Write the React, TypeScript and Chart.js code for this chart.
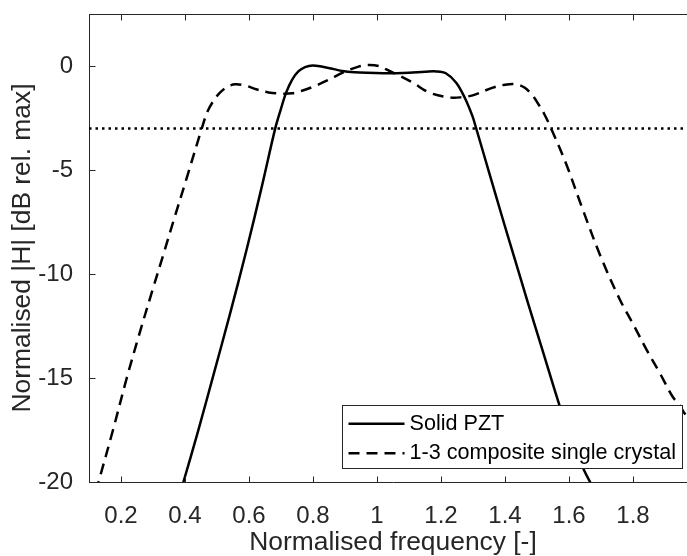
import React, { useEffect, useRef } from 'react';
import { Chart, registerables } from 'chart.js';

Chart.register(...registerables);

// ---- data ----
const solidX = [0.37, 0.395, 0.44, 0.489, 0.54, 0.593, 0.64, 0.682, 0.70, 0.716, 0.735, 0.755, 0.775, 0.799, 0.83, 0.865, 0.892, 0.93, 0.97, 1.02, 1.06, 1.10, 1.15, 1.185, 1.215, 1.2475, 1.275, 1.298, 1.31, 1.35, 1.39, 1.429, 1.47, 1.52, 1.57, 1.61, 1.643, 1.666, 1.69];
const solidY = [-21.3, -20, -17.6, -14.85, -11.95, -8.8, -5.8, -3, -2.05, -1.28, -0.65, -0.25, -0.05, 0.03, -0.04, -0.15, -0.24, -0.3, -0.33, -0.35, -0.35, -0.33, -0.28, -0.26, -0.35, -0.8, -1.55, -2.4, -3, -5.1, -7.2, -9.2, -11.3, -13.8, -16.3, -18.1, -19.3, -20, -20.6];

const compX = [0.105, 0.1297, 0.175, 0.218, 0.257, 0.296, 0.333, 0.364, 0.406, 0.4525, 0.47, 0.49, 0.51, 0.532, 0.557, 0.59, 0.625, 0.661, 0.702, 0.735, 0.763, 0.80, 0.841, 0.904, 0.94, 0.971, 1.005, 1.039, 1.075, 1.112, 1.164, 1.232, 1.265, 1.299, 1.362, 1.40, 1.435, 1.462, 1.487, 1.505, 1.523, 1.544, 1.591, 1.643, 1.70, 1.758, 1.80, 1.841, 1.885, 1.924, 1.945, 1.961, 2.0];
const compY = [-21.3, -20, -17.5, -15, -12.9, -10.9, -9.03, -7.45, -5.35, -3, -2.2, -1.65, -1.27, -1.0, -0.88, -0.95, -1.13, -1.27, -1.33, -1.31, -1.2, -1.0, -0.72, -0.24, -0.04, 0.05, 0.0, -0.24, -0.5, -0.8, -1.28, -1.52, -1.5, -1.41, -1.04, -0.9, -0.88, -1.05, -1.44, -1.85, -2.32, -3, -4.7, -6.9, -9.2, -11.2, -12.4, -13.6, -14.8, -15.9, -16.3, -16.7, -17.4];

const cutoffLevel = -3;

const seriesLabels = ['Solid PZT', '1-3 composite single crystal'];

const xTicks = [0.2, 0.4, 0.6, 0.8, 1, 1.2, 1.4, 1.6, 1.8];
const xTickLabels = ['0.2', '0.4', '0.6', '0.8', '1', '1.2', '1.4', '1.6', '1.8'];
const yTicks = [-20, -15, -10, -5, 0];
const yTickLabels = ['-20', '-15', '-10', '-5', '0'];

const xTitle = 'Normalised frequency [-]';
const yTitle = 'Normalised |H| [dB rel. max]';

const xMin = 0.1;
const xMax = 2.0;
const yMin = -20;
const yMax = 2.5;

// ---- style ----
const FONT = '"Liberation Sans", Arial, Helvetica, sans-serif';
const AXIS_COLOR = '#262626';

const framePlugin = {
  id: 'matlabFrame',
  afterDraw(chart: any) {
    const { ctx, chartArea: a } = chart;
    const xs = chart.scales.x;
    const ys = chart.scales.y;
    ctx.save();
    ctx.strokeStyle = AXIS_COLOR;
    ctx.lineWidth = 1;
    ctx.setLineDash([]);
    ctx.beginPath();
    const top = Math.round(a.top) + 0.5;
    const bottom = Math.round(a.bottom) + 0.5;
    const left = Math.round(a.left) + 0.5;
    ctx.moveTo(a.left, top);
    ctx.lineTo(a.right, top);
    const tl = 6;
    for (const v of xTicks) {
      const px = Math.round(xs.getPixelForValue(v)) + 0.5;
      ctx.moveTo(px, bottom);
      ctx.lineTo(px, bottom - tl);
      ctx.moveTo(px, top);
      ctx.lineTo(px, top + tl);
    }
    for (const v of yTicks) {
      const py = Math.round(ys.getPixelForValue(v)) + 0.5;
      ctx.moveTo(left, py);
      ctx.lineTo(left + tl, py);
    }
    ctx.stroke();

    // legend (southeast, inside axes)
    const ds = chart.data.datasets.slice(0, 2);
    const fs = 21.6;
    ctx.font = `${fs}px ${FONT}`;
    const textW = Math.max(...ds.map((d: any) => ctx.measureText(d.label).width));
    const padL = 6, sample = 56, gap = 5, padR = 7, padT = 18.3, rowH = 29.4, padB = 15.3;
    const w = padL + sample + gap + textW + padR;
    const h = padT + rowH + padB;
    const right = a.right - 15;
    const bot = a.bottom - 14;
    const x0 = Math.round(right - w) + 0.5;
    const y0 = Math.round(bot - h) + 0.5;
    ctx.fillStyle = '#ffffff';
    ctx.fillRect(x0, y0, Math.round(w), Math.round(h));
    ctx.strokeStyle = AXIS_COLOR;
    ctx.lineWidth = 1;
    ctx.strokeRect(x0, y0, Math.round(w), Math.round(h));
    ds.forEach((d: any, i: number) => {
      const y = y0 + padT + i * rowH;
      ctx.strokeStyle = d.borderColor;
      ctx.lineWidth = d.borderWidth;
      ctx.setLineDash(d.borderDash || []);
      ctx.beginPath();
      ctx.moveTo(x0 + padL, y);
      ctx.lineTo(x0 + padL + sample, y);
      ctx.stroke();
      ctx.setLineDash([]);
      ctx.fillStyle = '#000000';
      ctx.textAlign = 'left';
      ctx.textBaseline = 'middle';
      ctx.fillText(d.label, x0 + padL + sample + gap, y);
    });
    ctx.restore();
  },
};

export default function App() {
  const ref = useRef<HTMLCanvasElement>(null);
  useEffect(() => {
    const canvas = ref.current;
    if (!canvas) return;
    const toPts = (xs: number[], ys: number[]) => xs.map((x, i) => ({ x, y: ys[i] }));
    const chart = new Chart(canvas, {
      type: 'line',
      data: {
        datasets: [
          {
            label: seriesLabels[0],
            data: toPts(solidX, solidY),
            borderColor: '#000000',
            borderWidth: 2.5,
            pointRadius: 0,
            tension: 0.35,
            fill: false,
            clip: 0,
          },
          {
            label: seriesLabels[1],
            data: toPts(compX, compY),
            borderColor: '#000000',
            borderWidth: 2.5,
            borderDash: [11, 7],
            pointRadius: 0,
            tension: 0.35,
            fill: false,
            clip: 0,
          },
          {
            label: '-3 dB',
            data: [{ x: xMin, y: cutoffLevel }, { x: xMax, y: cutoffLevel }],
            borderColor: '#000000',
            borderWidth: 2.5,
            borderDash: [2.5, 4],
            pointRadius: 0,
            fill: false,
            clip: 0,
          },
        ],
      } as any,
      options: {
        responsive: false,
        animation: false,
        events: [],
        layout: { padding: { top: 14, left: 0, right: 0, bottom: 0 } },
        plugins: { legend: { display: false }, tooltip: { enabled: false } },
        scales: {
          x: {
            type: 'linear',
            min: xMin,
            max: xMax,
            afterBuildTicks: (s: any) => {
              s.ticks = xTicks.map((v) => ({ value: v }));
            },
            afterFit: (s: any) => {
              s.height = 74;
              s.paddingLeft = 0;
              s.paddingRight = 0;
            },
            grid: { display: false },
            border: { display: true, color: AXIS_COLOR, width: 1 },
            ticks: {
              autoSkip: false,
              maxRotation: 0,
              minRotation: 0,
              padding: 12,
              color: AXIS_COLOR,
              font: { size: 24, family: FONT },
              callback: (_v: any, i: number) => xTickLabels[i],
            },
            title: {
              display: true,
              text: xTitle,
              color: AXIS_COLOR,
              font: { size: 26.4, family: FONT, lineHeight: 1 },
              padding: { top: 0, bottom: 0 },
            },
          },
          y: {
            type: 'linear',
            min: yMin,
            max: yMax,
            afterBuildTicks: (s: any) => {
              s.ticks = yTicks.map((v) => ({ value: v }));
            },
            afterFit: (s: any) => {
              s.width = 89;
              s.paddingTop = 0;
              s.paddingBottom = 0;
            },
            grid: { display: false },
            border: { display: true, color: AXIS_COLOR, width: 1 },
            ticks: {
              autoSkip: false,
              padding: 8,
              color: AXIS_COLOR,
              font: { size: 24, family: FONT },
              callback: (_v: any, i: number) => yTickLabels[i],
            },
            title: {
              display: true,
              text: yTitle,
              color: AXIS_COLOR,
              font: { size: 26.4, family: FONT, lineHeight: 1 },
              padding: { top: 10, bottom: 0 },
            },
          },
        },
      } as any,
      plugins: [framePlugin],
    });
    return () => chart.destroy();
  }, []);
  return (
    <div
      style={{
        position: 'fixed',
        left: 0,
        top: 0,
        width: 687,
        height: 556,
        overflow: 'hidden',
        background: '#ffffff',
      }}
    >
      <canvas ref={ref} width={697} height={556} style={{ display: 'block' }} />
    </div>
  );
}
